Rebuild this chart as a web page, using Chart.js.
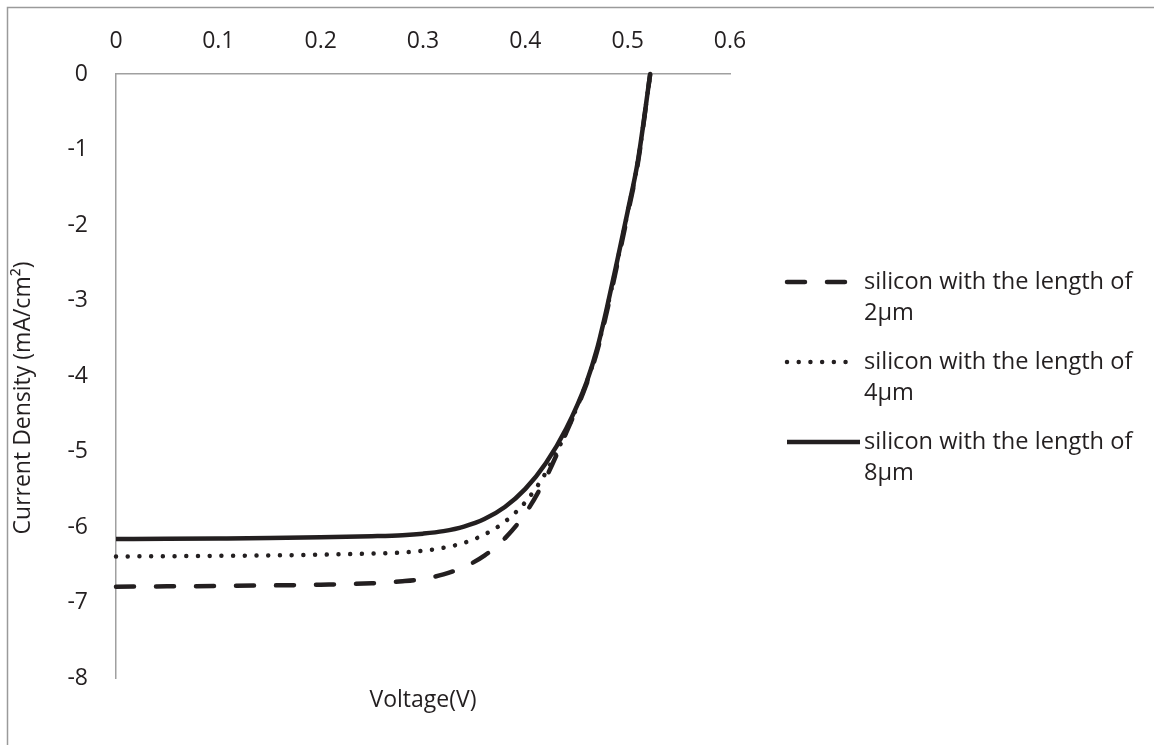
<!DOCTYPE html>
<html>
<head>
<meta charset="utf-8">
<script src="https://cdn.jsdelivr.net/npm/chart.js@4/dist/chart.umd.min.js"></script>
<style>
  html, body { margin: 0; padding: 0; background: #ffffff; }
  #wrap { width: 1154px; height: 745px; }
</style>
</head>
<body>
<div id="wrap"><canvas id="c" width="1154" height="745"></canvas></div>
<script>
// ---- data ----
const voltage = [0, 0.05, 0.1, 0.15, 0.2, 0.25, 0.28, 0.30, 0.32, 0.34, 0.36, 0.38, 0.40, 0.42, 0.44, 0.46, 0.47, 0.48, 0.49, 0.50, 0.51, 0.522];
const j2um = [-6.79, -6.786, -6.781, -6.774, -6.764, -6.745, -6.718, -6.688, -6.628, -6.53, -6.38, -6.15, -5.82, -5.35, -4.75, -4.10, -3.68, -3.13, -2.51, -1.86, -1.18, 0];
const j4um = [-6.39, -6.387, -6.382, -6.376, -6.367, -6.352, -6.338, -6.315, -6.275, -6.21, -6.10, -5.93, -5.67, -5.28, -4.74, -4.08, -3.66, -3.10, -2.48, -1.83, -1.16, 0];
const j8um = [-6.16, -6.157, -6.152, -6.146, -6.137, -6.122, -6.108, -6.088, -6.055, -5.995, -5.895, -5.735, -5.495, -5.155, -4.695, -4.075, -3.645, -3.08, -2.46, -1.82, -1.15, 0];
const seriesLabels = [
  ['silicon with the length of', '2\u00b5m'],
  ['silicon with the length of', '4\u00b5m'],
  ['silicon with the length of', '8\u00b5m']
];
const xTickValues = [0, 0.1, 0.2, 0.3, 0.4, 0.5, 0.6];
const xTickLabels = ['0', '0.1', '0.2', '0.3', '0.4', '0.5', '0.6'];
const yTickValues = [-8, -7, -6, -5, -4, -3, -2, -1, 0];
const yTickLabels = ['-8', '-7', '-6', '-5', '-4', '-3', '-2', '-1', '0'];
const xTitle = 'Voltage(V)';
const yTitle = 'Current Density (mA/cm\u00b2)';

// ---- styles ----
const INK = '#231f20';
const AXIS = '#a0a0a0';
const FONT = '"Open Sans", "DejaVu Sans", sans-serif';
const FS = 23;
const LFS = 23.6;
const dashStyles = [[18, 22], [0.01, 11.7], []];
const lineWidth = 4.5;

function pts(ys) { return voltage.map((v, i) => ({ x: v, y: ys[i] })); }

const datasets = [j2um, j4um, j8um].map((ys, k) => ({
  label: seriesLabels[k].join(' '),
  data: pts(ys),
  showLine: true,
  borderColor: INK,
  backgroundColor: INK,
  borderWidth: lineWidth,
  borderDash: dashStyles[k],
  borderCapStyle: k === 2 ? 'butt' : 'round',
  pointRadius: 0,
  pointHoverRadius: 0,
  cubicInterpolationMode: 'monotone',
  fill: false,
  clip: false
}));

const decor = {
  id: 'decor',
  beforeDraw(chart) {
    const ctx = chart.ctx;
    ctx.save();
    ctx.fillStyle = '#ffffff';
    ctx.fillRect(0, 0, chart.width, chart.height);
    ctx.strokeStyle = '#9a9a9a';
    ctx.lineWidth = 1.5;
    ctx.beginPath();
    ctx.moveTo(7.5, chart.height + 5);
    ctx.lineTo(7.5, 7.5);
    ctx.lineTo(chart.width + 5, 7.5);
    ctx.stroke();
    ctx.restore();
  },
  afterDraw(chart) {
    const ctx = chart.ctx;
    const area = chart.chartArea;
    ctx.save();
    ctx.fillStyle = INK;
    ctx.font = FS + 'px ' + FONT;
    // x title
    ctx.textAlign = 'center';
    ctx.textBaseline = 'middle';
    ctx.fillText(xTitle, (area.left + area.right) / 2, 700);
    // y title
    ctx.save();
    ctx.translate(23, 398);
    ctx.rotate(-Math.PI / 2);
    ctx.fillText(yTitle, 0, 0);
    ctx.restore();
    // legend
    ctx.font = LFS + 'px ' + FONT;
    const rows = [282, 362, 442];
    const x0 = 787, x1 = 850, x1s = 860, tx = 864;
    rows.forEach((ry, k) => {
      const ds = chart.data.datasets[k];
      ctx.save();
      ctx.strokeStyle = ds.borderColor;
      ctx.lineWidth = lineWidth;
      ctx.lineCap = ds.borderCapStyle;
      ctx.setLineDash(ds.borderDash);
      ctx.beginPath();
      ctx.moveTo(x0, ry);
      ctx.lineTo(k === 2 ? x1s : x1, ry);
      ctx.stroke();
      ctx.restore();
      ctx.textAlign = 'left';
      ctx.textBaseline = 'middle';
      ctx.fillText(seriesLabels[k][0], tx, ry);
      ctx.fillText(seriesLabels[k][1], tx, ry + 31);
    });
    ctx.restore();
  }
};

new Chart(document.getElementById('c'), {
  type: 'scatter',
  data: { datasets },
  options: {
    responsive: false,
    maintainAspectRatio: false,
    devicePixelRatio: 1,
    animation: false,
    events: [],
    layout: { padding: { left: 0, top: 0, right: 424, bottom: 67 } },
    plugins: { legend: { display: false }, tooltip: { enabled: false }, title: { display: false } },
    scales: {
      x: {
        type: 'linear',
        position: 'top',
        min: 0,
        max: 0.6,
        grid: { display: false },
        border: { display: true, color: AXIS, width: 1.5 },
        afterBuildTicks(s) { s.ticks = xTickValues.map(v => ({ value: v })); },
        afterFit(s) { s.height = 74; },
        ticks: {
          color: INK,
          font: { family: FONT, size: FS },
          padding: 11,
          maxRotation: 0,
          autoSkip: false,
          callback: (v, i) => xTickLabels[i]
        }
      },
      y: {
        type: 'linear',
        position: 'left',
        min: -8,
        max: 0,
        grid: { display: false },
        border: { display: true, color: AXIS, width: 1.5 },
        afterBuildTicks(s) { s.ticks = yTickValues.map(v => ({ value: v })); },
        afterFit(s) { s.width = 116; },
        ticks: {
          color: INK,
          font: { family: FONT, size: FS },
          padding: 20,
          autoSkip: false,
          callback: (v, i) => yTickLabels[i]
        }
      }
    }
  },
  plugins: [decor]
});
</script>
</body>
</html>
